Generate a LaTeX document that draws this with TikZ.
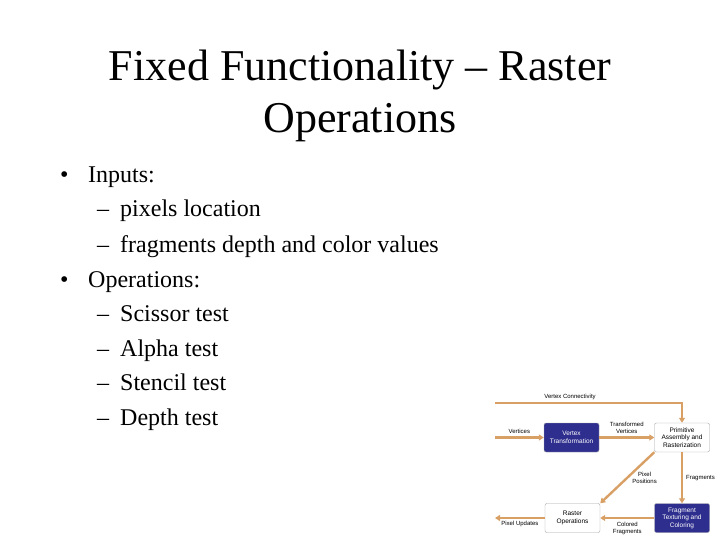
\documentclass[tikz,border=0pt]{standalone}
\usepackage{fontspec}
\setmainfont{Liberation Serif}
\newfontfamily\dsans{Liberation Sans}
\usetikzlibrary{arrows.meta}
\definecolor{flow}{HTML}{D9A066}
\definecolor{dblue}{HTML}{2E2E8E}
\begin{document}
\begin{tikzpicture}[x=1pt,y=-1pt,
  txt/.style={anchor=base west,inner sep=0,font=\fontsize{24}{28}\selectfont},
  blk/.style={draw=gray!70,rounded corners=2pt,minimum width=55pt,minimum height=29pt,inner sep=0,align=center,font=\dsans\fontsize{6.5}{7.5}\selectfont},
  dk/.style={blk,fill=dblue,text=white},
  lt/.style={blk,fill=white,text=black},
  fl/.style={draw=flow,line width=2.4pt,-{Triangle[length=5pt,width=6pt]}},
  lab/.style={font=\dsans\fontsize{6}{7}\selectfont,inner sep=0,align=center}]
\useasboundingbox (0,0) rectangle (720,540);
\node[font=\fontsize{44}{52}\selectfont,align=center] (title) at (360,96) {Fixed Functionality -- Raster\\Operations};
\node[txt] (b1) at (60,183) {\textbullet};
\node[txt] (t1) at (88,183) {Inputs:};
\node[txt] (d1) at (97,217) {--};
\node[txt] (t2) at (120,217) {pixels location};
\node[txt] (d2) at (97,252) {--};
\node[txt] (t3) at (120,252) {fragments depth and color values};
\node[txt] (b2) at (60,287) {\textbullet};
\node[txt] (t4) at (88,287) {Operations:};
\node[txt] (d3) at (97,321) {--};
\node[txt] (t5) at (120,321) {Scissor test};
\node[txt] (d4) at (97,356) {--};
\node[txt] (t6) at (120,356) {Alpha test};
\node[txt] (d5) at (97,390) {--};
\node[txt] (t7) at (120,390) {Stencil test};
\node[txt] (d6) at (97,425) {--};
\node[txt] (t8) at (120,425) {Depth test};
% diagram
\node[dk] (vt) at (571.5,437.5) {Vertex\\Transformation};
\node[lt] (pa) at (682,437.5) {Primitive\\Assembly and\\Rasterization};
\node[lt] (ro) at (572.5,518) {Raster\\Operations};
\node[dk] (ft) at (682,518) {Fragment\\Texturing and\\Coloring};
\coordinate (vcs) at (495,403);
\coordinate (vin) at (495,437.5);
\coordinate (pout) at (495,518);
\draw[fl] (vcs) -- (pa.north |- vcs) -- (pa.north);
\node[lab,anchor=south] (vcl) at (570,400) {Vertex Connectivity};
\draw[fl] (vin) -- (vt.west) node[midway,above=3pt,lab] {Vertices};
\draw[fl] (vt.east) -- (pa.west) node[midway,above=3pt,lab] {Transformed\\Vertices};
\draw[fl] (pa.south) -- (ft.north) node[midway,right=3pt,lab] {Fragments};
\draw[fl] (pa.south west) -- (ro.north east) node[midway,right=4pt,lab] {Pixel\\Positions};
\draw[fl] (ft.west) -- (ro.east) node[midway,below=3pt,lab] {Colored\\Fragments};
\draw[fl] (ro.west) -- (pout) node[midway,below=2pt,lab] {Pixel Updates};
\end{tikzpicture}
\end{document}
